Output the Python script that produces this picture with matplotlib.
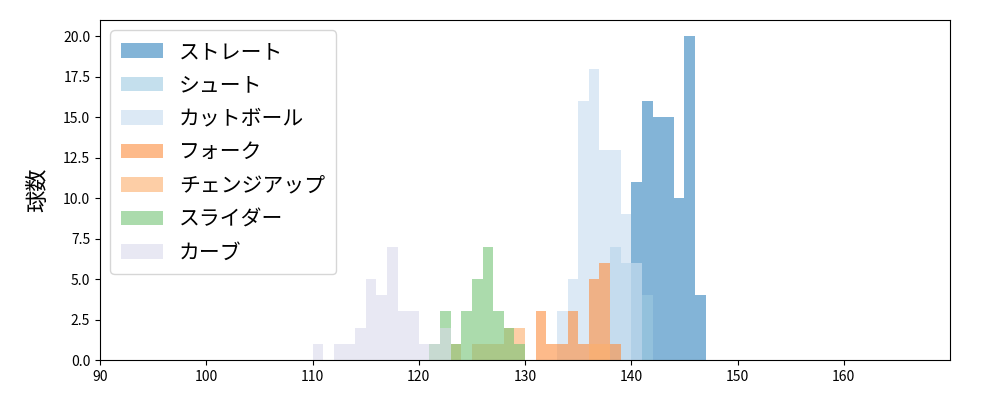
import matplotlib
matplotlib.use("Agg")
import matplotlib.pyplot as plt
import numpy as np

plt.rcParams['font.family'] = ['Noto Sans CJK JP', 'DejaVu Sans']

names = ["ストレート", "シュート", "カットボール", "フォーク", "チェンジアップ", "スライダー", "カーブ"]
colors = ["#3182bd", "#9ecae1", "#c6dbef", "#fd8d3c", "#fdae6b", "#74c476", "#dadaeb"]

straight_speed = [140, 141, 142, 143, 144, 145, 146]
straight_count = [11, 16, 15, 15, 10, 20, 4]
shoot_speed = [138, 139, 140, 141]
shoot_count = [7, 6, 6, 4]
cut_speed = [133, 134, 135, 136, 137, 138, 139, 140]
cut_count = [3, 5, 16, 18, 13, 13, 9, 6]
fork_speed = [131, 132, 133, 134, 135, 136, 137, 138]
fork_count = [3, 1, 1, 3, 1, 5, 6, 1]
change_speed = [123, 125, 126, 127, 128, 129, 136, 137]
change_count = [1, 1, 1, 1, 2, 2, 1, 1]
slider_speed = [121, 122, 123, 124, 125, 126, 127, 128, 129]
slider_count = [1, 3, 1, 3, 5, 7, 3, 2, 1]
curve_speed = [110, 112, 113, 114, 115, 116, 117, 118, 119, 120, 121, 122]
curve_count = [1, 1, 1, 2, 5, 4, 7, 3, 3, 1, 1, 2]

series = [(straight_speed, straight_count), (shoot_speed, shoot_count), (cut_speed, cut_count),
          (fork_speed, fork_count), (change_speed, change_count), (slider_speed, slider_count),
          (curve_speed, curve_count)]

fig, ax = plt.subplots(figsize=(10, 4), dpi=100)
bins = np.arange(90, 171, 1)
for (sp, ct), name, c in zip(series, names, colors):
    ax.hist(np.array(sp) + 0.5, bins=bins, weights=ct, color=c, alpha=0.6, label=name)

ax.set_xlim(90, 170)
ax.set_ylim(0, 21)
ax.set_yticks(np.arange(0, 20.1, 2.5))
ax.set_xticks(np.arange(90, 161, 10))
ax.set_ylabel("球数", fontsize=16, labelpad=10)
ax.legend(loc="upper left", fontsize=15, borderpad=0.5, labelspacing=0.55)
fig.subplots_adjust(left=0.1, right=0.95, top=0.95, bottom=0.1)
fig.savefig("out.png")
